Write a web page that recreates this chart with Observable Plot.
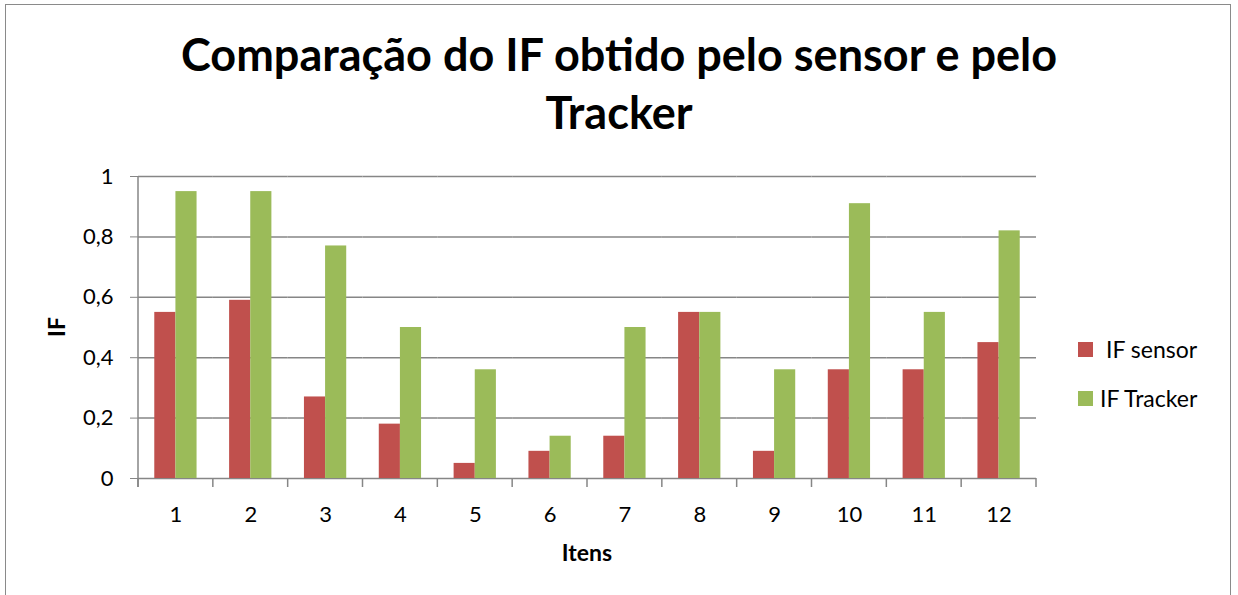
<!DOCTYPE html>
<html><head><meta charset="utf-8">
<script src="https://cdn.jsdelivr.net/npm/d3@7"></script>
<script src="https://cdn.jsdelivr.net/npm/@observablehq/plot@0.6"></script>
<style>
html,body{margin:0;padding:0;background:#fff;overflow:hidden;width:1238px;height:595px;font-family:Lato,"Open Sans",sans-serif;}
#frame{position:absolute;left:5px;top:4px;width:1226px;height:640px;border:1.5px solid #8a8a8a;box-sizing:border-box;}
#title{position:absolute;left:0;top:25px;width:1238px;text-align:center;font-weight:700;font-size:45px;line-height:58px;color:#000;white-space:nowrap;}
#chart{position:absolute;left:0;top:150px;}
#chart svg text{fill:#000;}
.lg{position:absolute;font-size:23px;line-height:23px;color:#000;white-space:nowrap;}
.sw{position:absolute;width:15px;height:15px;}
</style></head><body>
<div id="frame"></div>
<div id="title">Comparação do IF obtido pelo sensor e pelo<br>Tracker</div>
<div id="chart"></div>
<div id="legend"></div>
<script>
const items = ["1","2","3","4","5","6","7","8","9","10","11","12"];
const series = ["IF sensor","IF Tracker"];
const sensorValues = [0.55,0.59,0.27,0.18,0.05,0.09,0.14,0.55,0.09,0.36,0.36,0.45];
const trackerValues = [0.95,0.95,0.77,0.50,0.36,0.14,0.50,0.55,0.36,0.91,0.55,0.82];
const yTicks = [0,0.2,0.4,0.6,0.8,1];
const colors = ["#C0504D","#9BBB59"];
const xTitle = "Itens";
const yTitle = "IF";

const data = items.flatMap((it,i)=>[
  {item:it, series:series[0], value:sensorValues[i]},
  {item:it, series:series[1], value:trackerValues[i]}
]);

const SVG_TOP = 150;
const chart = Plot.plot({
  width:1238, height:420,
  marginLeft:138, marginRight:202, marginTop:26, marginBottom:92,
  style:{fontFamily:"Lato, 'Open Sans', sans-serif", fontSize:"22px", color:"#868686", background:"transparent", overflow:"visible"},
  fx:{domain:items, padding:0, round:false, axis:"bottom", tickSize:0, tickPadding:28, label:null},
  x:{domain:series, paddingInner:0, paddingOuter:0.77, round:false, axis:null},
  y:{domain:[0,1], ticks:yTicks, tickFormat:d=>String(d).replace(".",","), tickSize:8, tickPadding:17, label:null},
  color:{domain:series, range:colors},
  marks:[
    Plot.ruleY(yTicks,{stroke:"#868686", strokeWidth:1.5}),
    Plot.barY(data,{fx:"item", x:"series", y:"value", fill:"series"})
  ]
});
document.getElementById("chart").appendChild(chart);

// axis lines, category boundary ticks, axis titles using the plot's scales
const svg = d3.select(chart);
const fx = chart.scale("fx"), y = chart.scale("y");
const y0 = y.apply(0), y1 = y.apply(1);
const bounds = items.map(d=>fx.apply(d));
bounds.push(fx.apply(items[items.length-1]) + fx.bandwidth);
const g = svg.append("g").attr("stroke","#868686").attr("stroke-width",1.5);
g.append("line").attr("x1",bounds[0]).attr("x2",bounds[0]).attr("y1",y1).attr("y2",y0+9);
bounds.forEach(b=>g.append("line").attr("x1",b).attr("x2",b).attr("y1",y0).attr("y2",y0+9));
const xMid = (bounds[0]+bounds[bounds.length-1])/2;
svg.append("text").text(xTitle).attr("x",xMid).attr("y",553-SVG_TOP).attr("dy","0.35em")
  .attr("text-anchor","middle").attr("font-weight",700).attr("font-size",23);
svg.append("text").text(yTitle).attr("transform",`translate(57,${(y0+y1)/2}) rotate(-90)`).attr("dy","0.35em")
  .attr("text-anchor","middle").attr("font-weight",700).attr("font-size",23);

// legend
const lg = document.getElementById("legend");
const legendPos = [{sq:342, tx:1106},{sq:391, tx:1100}];
series.forEach((s,i)=>{
  const sw = document.createElement("div");
  sw.className="sw"; sw.style.left="1078px"; sw.style.top=legendPos[i].sq+"px"; sw.style.background=colors[i];
  lg.appendChild(sw);
  const t = document.createElement("div");
  t.className="lg"; t.textContent=s; t.style.left=legendPos[i].tx+"px"; t.style.top=(legendPos[i].sq-4)+"px";
  lg.appendChild(t);
});
</script>
</body></html>
